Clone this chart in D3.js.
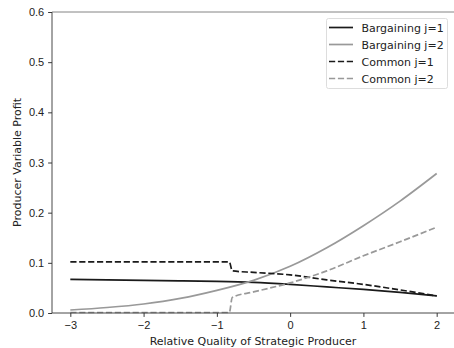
<!DOCTYPE html>
<html>
<head>
<meta charset="utf-8">
<script src="https://cdn.jsdelivr.net/npm/d3@7"></script>
<style>
  html, body { margin: 0; padding: 0; background: #fff; }
  svg { display: block; font-family: "DejaVu Sans", sans-serif; }
</style>
</head>
<body>
<svg id="chart" width="454" height="348"></svg>
<script>
// Producer variable profit against relative quality of the strategic producer
const bargainingX = [-3, -2.5, -2, -1.5, -1, -0.5, 0, 0.5, 1, 1.5, 2];
const bargainingJ1 = [0.067, 0.066, 0.065, 0.064, 0.063, 0.061, 0.057, 0.052, 0.047, 0.041, 0.034];
const bargainingJ2 = [0.006, 0.011, 0.018, 0.029, 0.045, 0.065, 0.093, 0.130, 0.174, 0.223, 0.278];

const commonX = [-3, -0.83, -0.79, -0.5, 0, 0.5, 1, 1.5, 2];
const commonJ1 = [0.102, 0.102, 0.084, 0.081, 0.076, 0.066, 0.057, 0.046, 0.034];
const commonJ2 = [0.001, 0.001, 0.031, 0.042, 0.060, 0.084, 0.114, 0.142, 0.171];

const xTicks = [-3, -2, -1, 0, 1, 2];
const yTicks = [0.0, 0.1, 0.2, 0.3, 0.4, 0.5, 0.6];

const dashed = "6.2,2.7";
const seriesList = [
  { name: "Bargaining j=1", xs: bargainingX, ys: bargainingJ1, color: "#1a1a1a", dash: null },
  { name: "Bargaining j=2", xs: bargainingX, ys: bargainingJ2, color: "#999999", dash: null },
  { name: "Common j=1", xs: commonX, ys: commonJ1, color: "#1a1a1a", dash: dashed },
  { name: "Common j=2", xs: commonX, ys: commonJ2, color: "#999999", dash: dashed }
];

const svg = d3.select("#chart");
const margin = { left: 52, top: 12, right: 455, bottom: 313 };
const fontSize = "11px";

const x = d3.scaleLinear().domain([-3.25, 2.25]).range([margin.left, margin.right]);
const y = d3.scaleLinear().domain([0, 0.6]).range([margin.bottom, margin.top]);

// series
const line = d3.line().x(d => x(d[0])).y(d => y(d[1])).curve(d3.curveMonotoneX);
const plot = svg.append("g");
seriesList.forEach(s => {
  plot.append("path")
    .datum(s.xs.map((v, i) => [v, s.ys[i]]))
    .attr("d", line)
    .attr("fill", "none")
    .attr("stroke", s.color)
    .attr("stroke-width", 1.7)
    .attr("stroke-dasharray", s.dash);
});

// axes
const xAxis = d3.axisBottom(x).tickValues(xTicks)
  .tickFormat(d => d < 0 ? "\u2212" + Math.abs(d) : String(d))
  .tickSize(3.9).tickPadding(3.9);
const yAxis = d3.axisLeft(y).tickValues(yTicks)
  .tickFormat(d3.format(".1f")).tickSize(3.9).tickPadding(3.9);

const gx = svg.append("g").attr("transform", `translate(0,${margin.bottom})`).call(xAxis);
const gy = svg.append("g").attr("transform", `translate(${margin.left},0)`).call(yAxis);
[gx, gy].forEach(g => {
  g.select(".domain").remove();
  g.selectAll("line").attr("stroke", "#222").attr("stroke-width", 0.9);
  g.selectAll("text").attr("fill", "#222").style("font-size", fontSize);
});

// frame
const frame = svg.append("g").attr("fill", "none").attr("stroke", "#333").attr("stroke-width", 0.9);
frame.append("line").attr("x1", margin.left).attr("x2", margin.left).attr("y1", margin.top).attr("y2", margin.bottom);
frame.append("line").attr("x1", margin.left).attr("x2", margin.right).attr("y1", margin.bottom).attr("y2", margin.bottom);
frame.append("line").attr("x1", margin.left).attr("x2", margin.right).attr("y1", margin.top).attr("y2", margin.top).attr("stroke", "#777");

// axis titles
svg.append("text")
  .attr("x", (margin.left + 454) / 2).attr("y", 345)
  .attr("text-anchor", "middle").style("font-size", fontSize).attr("fill", "#222")
  .text("Relative Quality of Strategic Producer");
svg.append("text")
  .attr("transform", `translate(21,${(margin.top + margin.bottom) / 2}) rotate(-90)`)
  .attr("text-anchor", "middle").style("font-size", fontSize).attr("fill", "#222")
  .text("Producer Variable Profit");

// legend
const legend = svg.append("g").attr("transform", "translate(326,18)");
legend.append("rect")
  .attr("x", 0.5).attr("y", 0.5).attr("width", 121).attr("height", 70).attr("rx", 2)
  .attr("fill", "#fff").attr("fill-opacity", 0.8).attr("stroke", "#ddd");
seriesList.forEach((s, i) => {
  const yy = 9.5 + i * 17;
  legend.append("line")
    .attr("x1", 3).attr("x2", 27).attr("y1", yy).attr("y2", yy)
    .attr("stroke", s.color).attr("stroke-width", 1.7).attr("stroke-dasharray", s.dash);
  legend.append("text")
    .attr("x", 35.5).attr("y", yy + 4)
    .style("font-size", fontSize).attr("fill", "#222")
    .text(s.name);
});
</script>
</body>
</html>
